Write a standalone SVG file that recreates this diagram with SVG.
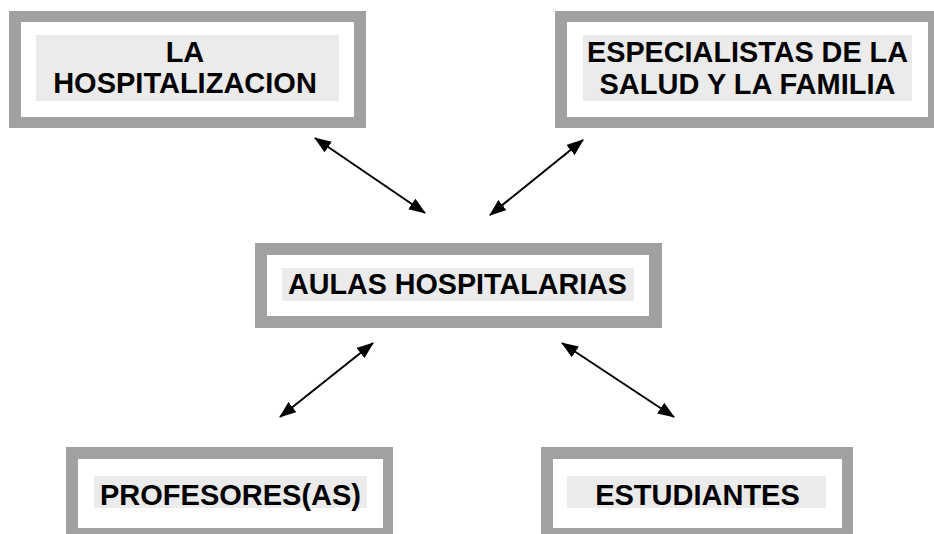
<svg xmlns="http://www.w3.org/2000/svg" width="934" height="534" viewBox="0 0 934 534">
<style>
.frame{fill:#a0a1a1}
.inner{fill:#ffffff}
.tbg{fill:#ebebeb}
.lbl{font-family:"Liberation Sans",Arial,sans-serif;font-weight:bold;font-size:29px;fill:#000;text-anchor:middle}
.con{stroke:#000;stroke-width:2;fill:none;marker-start:url(#ah);marker-end:url(#ah)}
</style>
<defs>
<marker id="ah" markerUnits="userSpaceOnUse" markerWidth="17" markerHeight="13" refX="16" refY="6.5" orient="auto-start-reverse" viewBox="0 0 17 13">
<path d="M0,0 L17,6.5 L0,13 z" fill="#000"/>
</marker>
</defs>
<rect width="934" height="534" fill="#fff"/>
<g id="hospitalizacion">
<rect class="frame" x="9" y="11" width="357" height="117"/>
<rect class="inner" x="21" y="22" width="333" height="95"/>
<rect class="tbg" x="36" y="35" width="303" height="66"/>
<text class="lbl" x="185" y="62">LA</text>
<text class="lbl" x="185" y="93">HOSPITALIZACION</text>
</g>
<g id="especialistas">
<rect class="frame" x="555" y="11" width="390" height="117"/>
<rect class="inner" x="567" y="22" width="361" height="95"/>
<rect class="tbg" x="583" y="35" width="329" height="66"/>
<text class="lbl" x="747.5" y="62" textLength="321" lengthAdjust="spacingAndGlyphs">ESPECIALISTAS DE LA</text>
<text class="lbl" x="747.5" y="94">SALUD Y LA FAMILIA</text>
</g>
<g id="aulas">
<rect class="frame" x="255" y="243" width="407" height="85"/>
<rect class="inner" x="267" y="255" width="382" height="61"/>
<rect class="tbg" x="282" y="268" width="352" height="33"/>
<text class="lbl" x="457.5" y="294" textLength="339" lengthAdjust="spacingAndGlyphs">AULAS HOSPITALARIAS</text>
</g>
<g id="profesores">
<rect class="frame" x="66" y="447" width="327" height="100"/>
<rect class="inner" x="78" y="459" width="305" height="69"/>
<rect class="tbg" x="94" y="476" width="273" height="32"/>
<text class="lbl" x="230.5" y="505">PROFESORES(AS)</text>
</g>
<g id="estudiantes">
<rect class="frame" x="541" y="447" width="312" height="100"/>
<rect class="inner" x="553" y="459" width="289" height="69"/>
<rect class="tbg" x="567" y="476" width="259" height="32"/>
<text class="lbl" x="697.5" y="505">ESTUDIANTES</text>
</g>
<g id="connectors">
<line class="con" x1="315" y1="138" x2="425" y2="213"/>
<line class="con" x1="583" y1="140" x2="490" y2="215"/>
<line class="con" x1="373" y1="343" x2="280" y2="417"/>
<line class="con" x1="562" y1="343" x2="674" y2="417"/>
</g>
</svg>
